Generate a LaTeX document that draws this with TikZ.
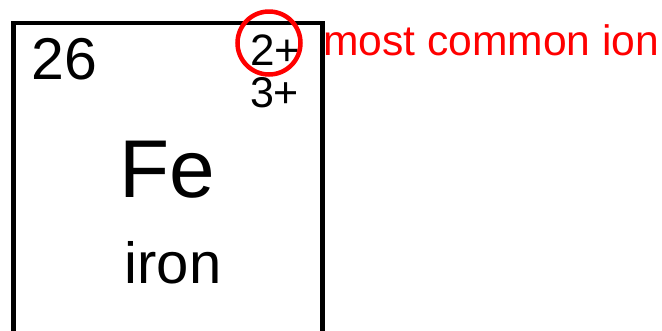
\documentclass[tikz,border=0pt]{standalone}
\usepackage{fontspec}
\setmainfont{Liberation Sans}
\begin{document}
\begin{tikzpicture}[x=1pt,y=-1pt,
  txt/.style={inner sep=0pt,outer sep=0pt},
  boxline/.style={line width=4.5pt,draw=black},
  ring/.style={line width=4.5pt,draw=red}]
\useasboundingbox (0,0) rectangle (662,330);
\clip (0,0) rectangle (662,330);
\coordinate (bl) at (13.5,340);
\coordinate (tl) at (13.5,23);
\coordinate (tr) at (322.5,23);
\coordinate (br) at (322.5,340);
\draw[boxline] (bl) -- (tl) -- (tr) -- (br);
\node[txt,anchor=base west,font=\fontsize{59}{62}\selectfont] (num) at (31.5,79) {26};
\node[txt,anchor=base west,font=\fontsize{44}{46}\selectfont] (ion2) at (250,65) {2+};
\node[txt,anchor=base west,font=\fontsize{43}{46}\selectfont] (ion3) at (250,107) {3+};
\node[txt,anchor=base,font=\fontsize{82}{86}\selectfont] (sym) at (167,197) {Fe};
\node[txt,anchor=base,font=\fontsize{58}{60}\selectfont] (name) at (173,283) {iron};
\node[txt,anchor=base west,text=red,font=\fontsize{42.6}{44}\selectfont] (lbl) at (323,55) {most common ion};
\draw[ring] (269,43) circle[radius=31.5];
\end{tikzpicture}
\end{document}
